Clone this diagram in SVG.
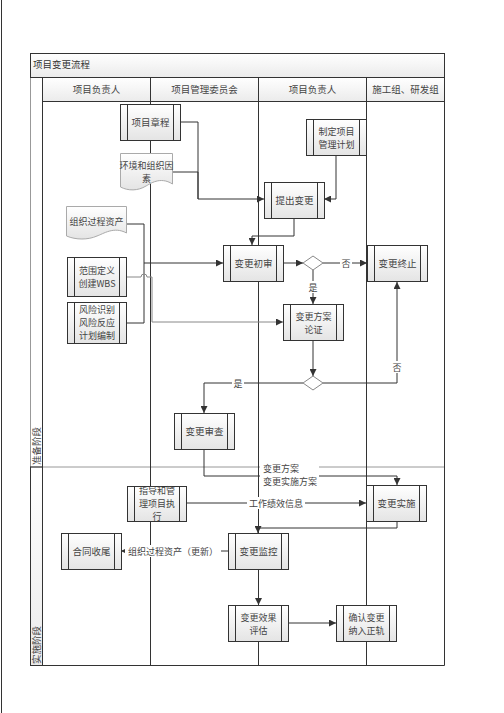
<svg xmlns="http://www.w3.org/2000/svg" width="504" height="713" viewBox="0 0 504 713">
<defs>
<linearGradient id="gBox" x1="0" y1="0" x2="0" y2="1"><stop offset="0" stop-color="#ffffff"/><stop offset="1" stop-color="#e4e4e4"/></linearGradient>
<linearGradient id="gHead" x1="0" y1="0" x2="0" y2="1"><stop offset="0" stop-color="#ffffff"/><stop offset="1" stop-color="#ebebeb"/></linearGradient>
<marker id="arr" viewBox="0 0 10 10" refX="10" refY="5" markerWidth="7" markerHeight="7" orient="auto" markerUnits="userSpaceOnUse"><path d="M0,0 L10,5 L0,10 Z" fill="#333"/></marker>
</defs>
<style>
text{font-family:"Noto Sans CJK SC","Liberation Serif",serif;font-size:9px;fill:#444;text-anchor:middle}
.lbl{font-size:9px}
.frame{fill:none;stroke:#333;stroke-width:1}
.lane{stroke:#333;stroke-width:1}
.box{fill:url(#gBox);stroke:#333;stroke-width:1}
.bar{stroke:#333;stroke-width:1}
.doc{fill:url(#gBox);stroke:#aaa;stroke-width:1}
.dia{fill:#fff;stroke:#888;stroke-width:1}
.c{fill:none;stroke:#333;stroke-width:1}
.cg{fill:none;stroke:#888;stroke-width:1}
.a{marker-end:url(#arr)}
.bg{fill:#fff}
</style>
<line x1="1.5" y1="0" x2="1.5" y2="713" stroke="#333"/>
<g id="pool">
<rect x="30.5" y="53.5" width="414" height="24" fill="url(#gHead)" stroke="#333"/>
<text x="33" y="68" style="text-anchor:start;font-size:9.5px;fill:#333">项目变更流程</text>
<rect x="42.5" y="77.5" width="402" height="24" fill="url(#gHead)" stroke="#333"/>
<text x="96.5" y="92.5" style="font-size:9.5px">项目负责人</text>
<text x="204.5" y="92.5" style="font-size:9.5px">项目管理委员会</text>
<text x="312.5" y="92.5" style="font-size:9.5px">项目负责人</text>
<text x="405.5" y="92.5" style="font-size:9.5px">施工组、研发组</text>
<line class="lane" x1="150.5" y1="77.5" x2="150.5" y2="665"/>
<line class="lane" x1="258.5" y1="77.5" x2="258.5" y2="665"/>
<line class="lane" x1="366.5" y1="77.5" x2="366.5" y2="665"/>
<line class="lane" x1="444.5" y1="77.5" x2="444.5" y2="665.5"/>
<line class="lane" x1="42.5" y1="77.5" x2="42.5" y2="665.5"/>
<line x1="30.5" y1="77.5" x2="30.5" y2="467" stroke="#333" stroke-dasharray="1,1"/>
<rect x="30.5" y="467" width="12" height="198.5" fill="url(#gHead)" stroke="#333"/>
<line class="lane" x1="42.5" y1="665.5" x2="444.5" y2="665.5"/>
<line x1="30.5" y1="467" x2="444.5" y2="467" stroke="#333" stroke-dasharray="1,1"/>
<text transform="translate(39.5,446) rotate(-90)" style="font-size:9.5px">准备阶段</text>
<text transform="translate(39.5,645) rotate(-90)" style="font-size:9.5px">实施阶段</text>
</g>
<g id="connectors">
<polyline class="c" points="180,122 198,122 198,199"/>
<polyline class="c a" points="172,172 198,172 198,199 264,199"/>
<polyline class="c a" points="336,155 336,199 324,199"/>
<polyline class="c a" points="294,218 294,236 252,236 252,245"/>
<polyline class="c" points="126,224 144,224 144,323 126,323"/>
<polyline class="c a" points="144,263 223,263"/>
<path class="cg" d="M126,277 H141 A3,3 0 0 1 147,277 H152 V322"/>
<polyline class="cg a" points="152,322 283,322"/>
<polyline class="c a" points="283,263 303,263"/>
<polyline class="c a" points="323,263 367,263"/>
<rect class="bg" x="340" y="257" width="12" height="12"/>
<text class="lbl" x="346" y="266.5">否</text>
<polyline class="c a" points="313,270 313,304"/>
<rect class="bg" x="307" y="281" width="12" height="12"/>
<text class="lbl" x="313" y="290.5">是</text>
<polyline class="c a" points="313,340 313,376"/>
<polyline class="c a" points="303,383 204,383 204,413"/>
<rect class="bg" x="232" y="377" width="12" height="12"/>
<text class="lbl" x="238" y="386.5">是</text>
<polyline class="c a" points="323,383 397,383 397,282"/>
<rect class="bg" x="391" y="361" width="12" height="12"/>
<text class="lbl" x="397" y="370.5">否</text>
<polyline class="c a" points="204,450 204,476 397,476 397,485"/>
<rect class="bg" x="260" y="461" width="59" height="28"/>
<text class="lbl" x="263" y="471.5" style="text-anchor:start">变更方案</text>
<text class="lbl" x="263" y="484.5" style="text-anchor:start">变更实施方案</text>
<polyline class="c a" points="186,503 366,503"/>
<rect class="bg" x="247" y="497" width="58" height="12"/>
<text class="lbl" x="276" y="506.5">工作绩效信息</text>
<polyline class="c a" points="397,522 397,528 258,528 258,533"/>
<polyline class="c a" points="228,551 121,551"/>
<rect class="bg" x="125" y="545" width="96" height="12"/>
<text class="lbl" x="173" y="554.5">组织过程资产（更新）</text>
<polyline class="c a" points="258.5,569 258.5,605"/>
<polyline class="c a" points="289,623 336,623"/>
</g>
<g id="n1"><rect class="box" x="120.5" y="104.5" width="60" height="36"/><line class="bar" x1="127.5" y1="104.5" x2="127.5" y2="140.5"/><line class="bar" x1="173.5" y1="104.5" x2="173.5" y2="140.5"/><text x="150.5" y="126" style="font-size:9.5px">项目章程</text></g>
<g id="n2"><path class="doc" d="M120.5,153.5 H172.5 V184 C160,176 150,184 146,186 C138,191 128,191 120.5,187 Z"/><text x="146.5" y="168.5">环境和组织因</text><text x="146.5" y="181.5">素</text></g>
<g id="n3"><path class="doc" d="M66.5,206.5 H126.5 V233 C114,226 103,234 97,236 C88,240 76,240 66.5,236 Z"/><text x="96.5" y="225">组织过程资产</text></g>
<g id="n4"><rect class="box" x="306.5" y="119.5" width="60" height="36"/><line class="bar" x1="313.5" y1="119.5" x2="313.5" y2="155.5"/><line class="bar" x1="359.5" y1="119.5" x2="359.5" y2="155.5"/><text x="336.5" y="134.5">制定项目</text><text x="336.5" y="147.5">管理计划</text></g>
<g id="n5"><rect class="box" x="264.5" y="182.5" width="60" height="36"/><line class="bar" x1="271.5" y1="182.5" x2="271.5" y2="218.5"/><line class="bar" x1="317.5" y1="182.5" x2="317.5" y2="218.5"/><text x="294.5" y="204" style="font-size:9.5px">提出变更</text></g>
<g id="n6"><rect class="box" x="223.5" y="245.5" width="60" height="36"/><line class="bar" x1="230.5" y1="245.5" x2="230.5" y2="281.5"/><line class="bar" x1="276.5" y1="245.5" x2="276.5" y2="281.5"/><text x="253.5" y="267" style="font-size:9.5px">变更初审</text></g>
<g id="d1"><polygon class="dia" points="303,263 313,256 323,263 313,270"/></g>
<g id="n7"><rect class="box" x="367.5" y="245.5" width="60" height="36"/><line class="bar" x1="374.5" y1="245.5" x2="374.5" y2="281.5"/><line class="bar" x1="420.5" y1="245.5" x2="420.5" y2="281.5"/><text x="397.5" y="267" style="font-size:9.5px">变更终止</text></g>
<g id="n8"><rect class="box" x="283.5" y="304.5" width="60" height="36"/><line class="bar" x1="290.5" y1="304.5" x2="290.5" y2="340.5"/><line class="bar" x1="336.5" y1="304.5" x2="336.5" y2="340.5"/><text x="313.5" y="319.5">变更方案</text><text x="313.5" y="332.5">论证</text></g>
<g id="n9"><rect class="box" x="67.5" y="257.5" width="59" height="39"/><line class="bar" x1="74.5" y1="257.5" x2="74.5" y2="296.5"/><line class="bar" x1="119.5" y1="257.5" x2="119.5" y2="296.5"/><text x="97" y="273.5">范围定义</text><text x="97" y="286.5">创建WBS</text></g>
<g id="n10"><rect class="box" x="67.5" y="302.5" width="59" height="41"/><line class="bar" x1="74.5" y1="302.5" x2="74.5" y2="343.5"/><line class="bar" x1="119.5" y1="302.5" x2="119.5" y2="343.5"/><text x="97" y="313">风险识别</text><text x="97" y="326">风险反应</text><text x="97" y="339">计划编制</text></g>
<g id="d2"><polygon class="dia" points="303,383 313,376 323,383 313,390"/></g>
<g id="n11"><rect class="box" x="174.5" y="413.5" width="60" height="36"/><line class="bar" x1="181.5" y1="413.5" x2="181.5" y2="449.5"/><line class="bar" x1="227.5" y1="413.5" x2="227.5" y2="449.5"/><text x="204.5" y="435" style="font-size:9.5px">变更审查</text></g>
<g id="n12"><rect class="box" x="127.5" y="486.5" width="59" height="35"/><line class="bar" x1="134.5" y1="486.5" x2="134.5" y2="521.5"/><line class="bar" x1="179.5" y1="486.5" x2="179.5" y2="521.5"/><text x="157" y="493.5">指导和管</text><text x="157" y="506.5">理项目执</text><text x="157" y="519.5">行</text></g>
<g id="n13"><rect class="box" x="61.5" y="533.5" width="60" height="36"/><line class="bar" x1="68.5" y1="533.5" x2="68.5" y2="569.5"/><line class="bar" x1="114.5" y1="533.5" x2="114.5" y2="569.5"/><text x="91.5" y="555" style="font-size:9.5px">合同收尾</text></g>
<g id="n14"><rect class="box" x="228.5" y="533.5" width="60" height="36"/><line class="bar" x1="235.5" y1="533.5" x2="235.5" y2="569.5"/><line class="bar" x1="281.5" y1="533.5" x2="281.5" y2="569.5"/><text x="258.5" y="555" style="font-size:9.5px">变更监控</text></g>
<g id="n15"><rect class="box" x="366.5" y="485.5" width="60" height="36"/><line class="bar" x1="373.5" y1="485.5" x2="373.5" y2="521.5"/><line class="bar" x1="419.5" y1="485.5" x2="419.5" y2="521.5"/><text x="396.5" y="507" style="font-size:9.5px">变更实施</text></g>
<g id="n16"><rect class="box" x="228.5" y="605.5" width="60" height="36"/><line class="bar" x1="235.5" y1="605.5" x2="235.5" y2="641.5"/><line class="bar" x1="281.5" y1="605.5" x2="281.5" y2="641.5"/><text x="258.5" y="620.5">变更效果</text><text x="258.5" y="633.5">评估</text></g>
<g id="n17"><rect class="box" x="336.5" y="605.5" width="60" height="36"/><line class="bar" x1="343.5" y1="605.5" x2="343.5" y2="641.5"/><line class="bar" x1="389.5" y1="605.5" x2="389.5" y2="641.5"/><text x="366.5" y="620.5">确认变更</text><text x="366.5" y="633.5">纳入正轨</text></g>
</svg>
